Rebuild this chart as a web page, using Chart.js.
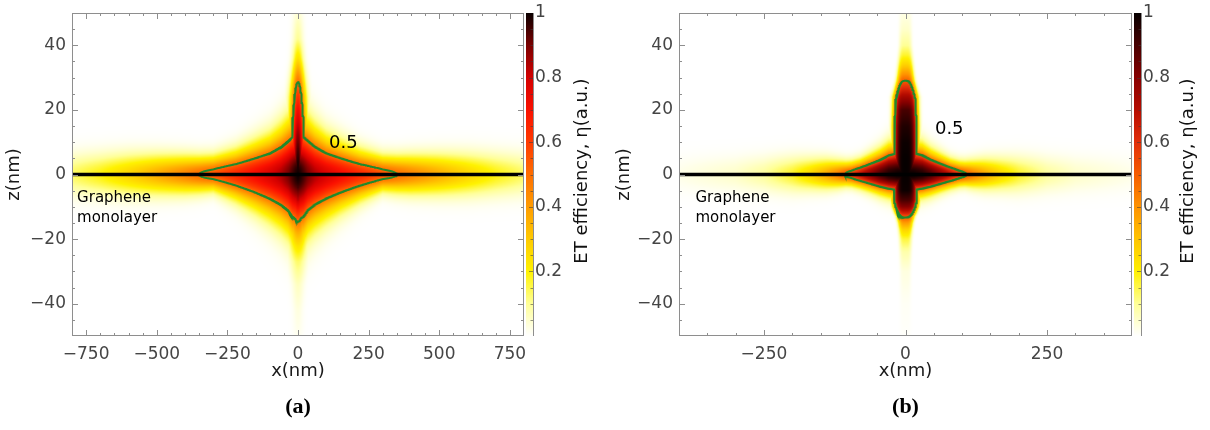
<!DOCTYPE html>
<html>
<head>
<meta charset="utf-8">
<title>ET efficiency maps near a graphene monolayer</title>
<script src="https://cdn.jsdelivr.net/npm/chart.js@4.4.1/dist/chart.umd.min.js"></script>
<style>
  html, body { margin: 0; padding: 0; background: #ffffff; }
  #wrap { position: relative; width: 1210px; height: 430px; overflow: hidden; }
  .panel { position: absolute; top: 0; width: 605px; height: 430px; }
  .panel canvas { display: block; }
</style>
</head>
<body>
<div id="wrap">
  <div class="panel" style="left:0"><canvas id="panelA" width="605" height="430"></canvas></div>
  <div class="panel" style="left:605px"><canvas id="panelB" width="605" height="430"></canvas></div>
</div>
<script>
// ---------------- tick labels ----------------
const zTicks = [-40, -20, 0, 20, 40];
const cbTicks = [0.2, 0.4, 0.6, 0.8, 1];
const aXTicks = [-750, -500, -250, 0, 250, 500, 750];
const bXTicks = [-250, 0, 250];

// ---------------- colour maps (η -> rgb) ----------------
const cmapStops = [0, 0.1, 0.2, 0.3, 0.4, 0.5, 0.6, 0.7, 0.8, 0.9, 1];
const aCmapColors = [[255, 255, 255], [255, 255, 150], [255, 242, 0], [255, 202, 0], [255, 156, 0],
                     [255, 110, 0], [255, 58, 0], [250, 16, 0], [212, 0, 0], [122, 0, 0], [10, 0, 0]];
const bCmapColors = [[255, 255, 255], [255, 255, 150], [255, 240, 0], [255, 196, 0], [255, 146, 0],
                     [246, 92, 0], [226, 46, 10], [182, 12, 0], [136, 0, 0], [72, 0, 0], [6, 0, 0]];

// ---------------- panel (a) ----------------
// η along the graphene sheet (z = 0) versus |x| in nm
const aSheetX   = [0, 10, 20, 35, 60, 100, 150, 220, 300, 350, 400, 500, 600, 700, 800];
const aSheetEta = [1.0, 0.98, 0.95, 0.90, 0.84, 0.78, 0.72, 0.64, 0.55, 0.50, 0.45, 0.36, 0.27, 0.19, 0.13];
// distance from the sheet (nm) where η drops to half its on-sheet value, above / below
const aSheetUp   = [12.5, 12.3, 12.0, 11.3, 9.9, 8.2, 7.0, 5.4, 4.3, 4.3, 4.5, 4.8, 5.0, 5.0, 5.0];
const aSheetDown = [14.0, 13.8, 13.5, 12.0, 10.8, 9.3, 7.7, 5.7, 3.8, 4.2, 4.5, 4.8, 5.0, 5.0, 5.0];
// η along the normal axis (x = 0) versus z in nm
const aAxisZ   = [-50, -42, -34, -27, -22, -18, -15, -12, -8, -4, 0, 4, 8, 12, 16, 20, 24, 28, 32, 36, 42, 50];
const aAxisEta = [0.015, 0.03, 0.06, 0.13, 0.24, 0.36, 0.48, 0.62, 0.82, 0.95, 1.0, 0.98, 0.94, 0.88, 0.80, 0.72, 0.62, 0.52, 0.38, 0.24, 0.10, 0.04];
// lateral half-width (nm) at half of the on-axis value
const aAxisReach = [15, 15, 18, 24, 28, 30, 30, 30, 28, 25, 23, 23, 23, 23, 23, 22, 22, 20, 18, 16, 15, 15];

// ---------------- panel (b) ----------------
const bSheetX   = [0, 15, 30, 45, 63, 80, 95, 105, 120, 140, 170, 200, 250, 300, 400];
const bSheetEta = [1.0, 0.99, 0.96, 0.89, 0.78, 0.67, 0.56, 0.51, 0.43, 0.35, 0.25, 0.17, 0.09, 0.05, 0.02];
const bSheetUp   = [7.0, 6.6, 6.1, 5.0, 4.1, 3.3, 3.0, 3.0, 3.3, 3.7, 4.0, 4.3, 4.3, 4.3, 4.3];
const bSheetDown = [5.0, 4.8, 4.5, 4.1, 3.5, 3.0, 2.7, 2.7, 3.1, 3.5, 3.8, 4.2, 4.2, 4.2, 4.2];
const bAxisZ   = [-50, -40, -30, -24, -20, -17, -15, -13, -12, -10, -8, -5, 0, 5, 10, 15, 20, 24, 27, 29, 31, 34, 37, 40, 45, 50];
const bAxisEta = [0.005, 0.01, 0.03, 0.08, 0.16, 0.27, 0.38, 0.52, 0.63, 0.80, 0.90, 0.99, 1.0, 1.0, 0.99, 0.96, 0.90, 0.74, 0.60, 0.50, 0.40, 0.27, 0.17, 0.10, 0.05, 0.025];
const bAxisReach = [9, 9, 9, 9.5, 10, 11, 12, 14, 16, 19, 20.5, 20, 19.5, 19.5, 19.5, 19.5, 19, 19, 16, 14, 13, 12, 11, 10, 10, 10];

const contourLevel = 0.5;

// ---------------- helpers ----------------
const FONT = "'DejaVu Sans', 'Liberation Sans', sans-serif";
const LN2 = Math.log(2);

function lerp(xs, ys, x) {
  const n = xs.length;
  if (x <= xs[0]) return ys[0];
  if (x >= xs[n - 1]) return ys[n - 1];
  let i = 1;
  while (xs[i] < x) i++;
  const t = (x - xs[i - 1]) / (xs[i] - xs[i - 1]);
  return ys[i - 1] + t * (ys[i] - ys[i - 1]);
}

// η(x, z): the larger of the sheet-bound lobe and the axial lobe
function makeField(p) {
  return function (x, z) {
    const ax = Math.abs(x);
    const reach = z >= 0 ? lerp(p.sheetX, p.sheetUp, ax) : lerp(p.sheetX, p.sheetDown, ax);
    const band = lerp(p.sheetX, p.sheetEta, ax) * Math.exp(-LN2 * (z / reach) * (z / reach));
    const w = lerp(p.axisZ, p.axisReach, z);
    const spike = lerp(p.axisZ, p.axisEta, z) * Math.exp(-LN2 * Math.pow(ax / w, p.axisShape));
    return Math.max(band, spike);
  };
}

function makeLut(colors) {
  const table = [];
  for (let k = 0; k <= 1024; k++) {
    const v = k / 1024;
    let i = 1;
    while (i < cmapStops.length - 1 && cmapStops[i] < v) i++;
    const t = (v - cmapStops[i - 1]) / (cmapStops[i] - cmapStops[i - 1]);
    const a = colors[i - 1], b = colors[i];
    table.push([0, 1, 2].map(c => Math.round(a[c] + t * (b[c] - a[c]))));
  }
  return v => table[Math.round(Math.min(1, Math.max(0, v)) * 1024)];
}

// level line of the field, traced outward from the origin along rays
function traceLevel(field, level, xSpan, zSpan, W, H) {
  const pts = [];
  const N = 1800, step = 0.5, rMax = Math.hypot(W, H);
  for (let k = 0; k <= N; k++) {
    const th = 2 * Math.PI * k / N, c = Math.cos(th), s = Math.sin(th);
    const at = r => field(c * r / W * xSpan, s * r / H * zSpan);
    let r0 = -1, r1 = -1;
    for (let r = step; r < rMax; r += step) {
      if (at(r) < level) { r0 = r - step; r1 = r; break; }
    }
    if (r0 < 0) continue;
    for (let it = 0; it < 24; it++) {
      const m = (r0 + r1) / 2;
      if (at(m) >= level) r0 = m; else r1 = m;
    }
    pts.push({ x: c * r0 / W * xSpan, y: s * r0 / H * zSpan });
  }
  return pts;
}

const fmt = v => (v < 0 ? '\u2212' + Math.abs(v) : String(v));

// keep the plot box fixed, tick labels may overhang it
function noEdgePadding(s) {
  s.paddingTop = 0; s.paddingBottom = 0; s.paddingLeft = 0; s.paddingRight = 0;
}

// ---------------- plugins ----------------
function heatmapPlugin(field, lut) {
  let img = null;
  return {
    id: 'heatmap',
    beforeDatasetsDraw(chart) {
      const { ctx, chartArea: a, scales } = chart;
      const w = Math.round(a.right - a.left), h = Math.round(a.bottom - a.top);
      if (!img || img.width !== w || img.height !== h) {
        img = document.createElement('canvas');
        img.width = w; img.height = h;
        const octx = img.getContext('2d');
        const data = octx.createImageData(w, h);
        const xs = [];
        for (let i = 0; i < w; i++) xs.push(scales.x.getValueForPixel(a.left + i + 0.5));
        for (let j = 0; j < h; j++) {
          const z = scales.y.getValueForPixel(a.top + j + 0.5);
          for (let i = 0; i < w; i++) {
            const c = lut(field(xs[i], z));
            const o = (j * w + i) * 4;
            data.data[o] = c[0]; data.data[o + 1] = c[1]; data.data[o + 2] = c[2]; data.data[o + 3] = 255;
          }
        }
        octx.putImageData(data, 0, 0);
      }
      ctx.drawImage(img, a.left, a.top);
    }
  };
}

function framePlugin(p) {
  return {
    id: 'frame',
    afterDatasetsDraw(chart) {
      const { ctx, chartArea: a, scales: { x, y } } = chart;
      ctx.save();
      ctx.strokeStyle = '#8e8e8e';
      ctx.lineWidth = 1;
      ctx.strokeRect(a.left + 0.5, a.top + 0.5, a.right - a.left - 1, a.bottom - a.top - 1);
      ctx.beginPath();
      for (let v = p.xMin; v <= p.xMax + 1e-9; v += p.xMinor) {
        if (v === p.xMin || v === p.xMax) continue;
        const major = p.xTicks.includes(v);
        const len = major ? 6 : 3;
        const px = Math.round(x.getPixelForValue(v)) + 0.5;
        ctx.moveTo(px, a.bottom); ctx.lineTo(px, a.bottom - len);
        ctx.moveTo(px, a.top); ctx.lineTo(px, a.top + len);
      }
      for (let v = -50; v <= 50; v += 5) {
        if (v === -50 || v === 50) continue;
        const major = zTicks.includes(v);
        const len = major ? 6 : 3;
        const py = Math.round(y.getPixelForValue(v)) + 0.5;
        ctx.moveTo(a.left, py); ctx.lineTo(a.left + len, py);
        ctx.moveTo(a.right, py); ctx.lineTo(a.right - len, py);
      }
      ctx.stroke();
      ctx.restore();
    }
  };
}

function colorbarPlugin(lut) {
  return {
    id: 'colorbar',
    afterDatasetsDraw(chart) {
      const { ctx, chartArea: a, scales: { cb } } = chart;
      const x0 = Math.round(a.right) + 2, bw = 7;
      ctx.save();
      for (let yy = Math.round(a.top); yy < Math.round(a.bottom); yy++) {
        const c = lut(cb.getValueForPixel(yy + 0.5));
        ctx.fillStyle = 'rgb(' + c[0] + ',' + c[1] + ',' + c[2] + ')';
        ctx.fillRect(x0, yy, bw, 1);
      }
      ctx.strokeStyle = '#8e8e8e';
      ctx.lineWidth = 1;
      ctx.beginPath();
      ctx.moveTo(x0 + bw + 0.5, a.top); ctx.lineTo(x0 + bw + 0.5, a.bottom);
      ctx.stroke();
      ctx.strokeStyle = 'rgba(60,60,60,0.55)';
      ctx.beginPath();
      for (let k = 1; k < 20; k++) {
        const py = Math.round(cb.getPixelForValue(k / 20)) + 0.5;
        const len = k % 4 === 0 ? 4 : 2.5;
        ctx.moveTo(x0 + bw, py); ctx.lineTo(x0 + bw - len, py);
      }
      ctx.stroke();
      ctx.restore();
    }
  };
}

function textPlugin(p) {
  return {
    id: 'texts',
    afterDraw(chart) {
      const { ctx, chartArea: a, scales: { x, y } } = chart;
      ctx.save();
      ctx.fillStyle = '#000';
      ctx.textAlign = 'left';
      ctx.textBaseline = 'alphabetic';
      ctx.font = '15px ' + FONT;
      ctx.fillText('Graphene', x.getPixelForValue(p.sheetLabelX), y.getPixelForValue(-8.6));
      ctx.fillText('monolayer', x.getPixelForValue(p.sheetLabelX), y.getPixelForValue(-14.6));
      ctx.font = '18px ' + FONT;
      ctx.fillText(String(contourLevel), x.getPixelForValue(p.levelLabel[0]), y.getPixelForValue(p.levelLabel[1]));
      // colour-bar title
      ctx.save();
      ctx.translate(p.cbTitleX, 171);
      ctx.rotate(-Math.PI / 2);
      ctx.textAlign = 'center';
      ctx.textBaseline = 'middle';
      ctx.fillStyle = '#111';
      ctx.font = '18px ' + FONT;
      ctx.fillText('ET efficiency, \u03b7(a.u.)', 0, 0);
      ctx.restore();
      // panel tag
      ctx.textAlign = 'center';
      ctx.textBaseline = 'middle';
      ctx.font = "bold 22px 'Liberation Serif', 'DejaVu Serif', serif";
      ctx.fillText(p.tag, (a.left + a.right) / 2, 407);
      ctx.restore();
    }
  };
}

// ---------------- chart builder ----------------
function buildPanel(canvasId, p) {
  const field = makeField(p);
  const lut = makeLut(p.cmapColors);
  const plotW = 605 - p.leftWidth - p.rightWidth, plotH = 323;
  const contour = traceLevel(field, contourLevel, p.xMax - p.xMin, 100, plotW, plotH);
  if (contour.length) contour.push(contour[0]);
  const tickFont = { family: FONT, size: 17 };
  return new Chart(document.getElementById(canvasId), {
    type: 'line',
    data: {
      datasets: [
        { label: 'Graphene monolayer', data: [{ x: p.xMin, y: 0 }, { x: p.xMax, y: 0 }],
          borderColor: '#000000', borderWidth: 3.5, pointRadius: 0 },
        { label: '\u03b7 = ' + contourLevel, data: contour,
          borderColor: '#1f8a2c', borderWidth: 2, pointRadius: 0, tension: 0 }
      ]
    },
    options: {
      responsive: false,
      animation: false,
      events: [],
      layout: { padding: { top: 13, bottom: 48, left: 0, right: 0 } },
      plugins: { legend: { display: false }, tooltip: { enabled: false } },
      scales: {
        x: {
          type: 'linear', position: 'bottom', min: p.xMin, max: p.xMax,
          grid: { display: false, drawTicks: false }, border: { display: false },
          afterBuildTicks: s => { s.ticks = p.xTicks.map(v => ({ value: v })); },
          afterFit: s => { s.height = 46; noEdgePadding(s); },
          ticks: { callback: fmt, font: tickFont, color: '#454545', padding: 8, maxRotation: 0, autoSkip: false },
          title: { display: true, text: 'x(nm)', font: { family: FONT, size: 18 }, color: '#1a1a1a', padding: { top: 0, bottom: 0 } }
        },
        y: {
          type: 'linear', position: 'left', min: -50, max: 50,
          grid: { display: false, drawTicks: false }, border: { display: false },
          afterBuildTicks: s => { s.ticks = zTicks.map(v => ({ value: v })); },
          afterFit: s => { s.width = p.leftWidth; noEdgePadding(s); },
          ticks: { callback: fmt, font: tickFont, color: '#454545', padding: 6, autoSkip: false },
          title: { display: true, text: 'z(nm)', font: { family: FONT, size: 18 }, color: '#1a1a1a', padding: { top: p.zTitlePad, bottom: 0 } }
        },
        cb: {
          type: 'linear', position: 'right', min: 0, max: 1,
          grid: { display: false, drawTicks: false }, border: { display: false },
          afterBuildTicks: s => { s.ticks = cbTicks.map(v => ({ value: v })); },
          afterFit: s => { s.width = p.rightWidth; noEdgePadding(s); },
          ticks: { callback: v => (v === 1 ? '1' : v.toFixed(1)), font: tickFont, color: '#454545', padding: p.cbPad, autoSkip: false }
        }
      }
    },
    plugins: [heatmapPlugin(field, lut), colorbarPlugin(lut), framePlugin(p), textPlugin(p)]
  });
}

buildPanel('panelA', {
  tag: '(a)', xMin: -800, xMax: 800, xTicks: aXTicks, xMinor: 50, cmapColors: aCmapColors,
  sheetX: aSheetX, sheetEta: aSheetEta, sheetUp: aSheetUp, sheetDown: aSheetDown,
  axisZ: aAxisZ, axisEta: aAxisEta, axisReach: aAxisReach, axisShape: 2,
  leftWidth: 72, rightWidth: 81, zTitlePad: 4, cbPad: 11, cbTitleX: 582,
  sheetLabelX: -782, levelLabel: [110, 8.2]
});

buildPanel('panelB', {
  tag: '(b)', xMin: -400, xMax: 400, xTicks: bXTicks, xMinor: 50, cmapColors: bCmapColors,
  sheetX: bSheetX, sheetEta: bSheetEta, sheetUp: bSheetUp, sheetDown: bSheetDown,
  axisZ: bAxisZ, axisEta: bAxisEta, axisReach: bAxisReach, axisShape: 4,
  leftWidth: 74, rightWidth: 78, zTitlePad: 9, cbPad: 11, cbTitleX: 583,
  sheetLabelX: -371, levelLabel: [52, 12.6]
});
</script>
</body>
</html>
